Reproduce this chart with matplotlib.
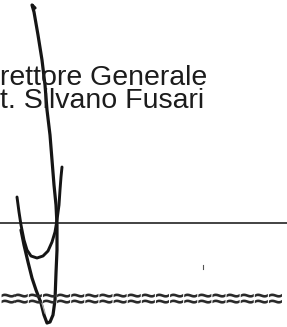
import matplotlib
matplotlib.use("Agg")
import matplotlib.pyplot as plt

# testo (ritagliato come nella scansione)
riga1 = "rettore Generale"
riga2 = "t. Silvano Fusari"
onde = "\u2248" * 20

# firma: tratto principale (giu', V in basso, risale a sinistra)
firma1_x = [35, 32, 34, 38, 42, 45, 47, 50, 52, 54, 56, 57, 57, 56, 55, 53, 50, 47, 44, 41, 36, 32, 28, 24, 21]
firma1_y = [8, 5, 12, 35, 60, 85, 110, 135, 160, 185, 205, 225, 250, 273, 300, 315, 322, 323, 315, 303, 290, 278, 262, 245, 230]

# firma: secondo tratto (ansa a U)
firma2_x = [17, 19, 21, 24, 27, 31, 37, 43, 48, 52, 55, 57, 59, 60, 61, 62]
firma2_y = [197, 212, 225, 240, 250, 256, 258, 256, 251, 242, 232, 220, 205, 190, 177, 167]

# linea orizzontale
linea_x = [0, 287]
linea_y = [223, 223]

fig = plt.figure(figsize=(2.87, 3.27), dpi=100)
ax = fig.add_axes([0, 0, 1, 1])
ax.set_xlim(0, 287)
ax.set_ylim(327, 0)
ax.axis('off')

ax.text(0, 85, riga1, fontsize=20.5, family='Liberation Sans', color='#1c1c1c', va='baseline', ha='left')
ax.text(0, 108.5, riga2, fontsize=20.5, family='Liberation Sans', color='#1c1c1c', va='baseline', ha='left')

ax.plot(linea_x, linea_y, color='#222222', lw=1.2)

ax.text(0, 300, onde, fontsize=18.5, family='Liberation Sans', weight='bold', color='#2a2a2a',
        va='center', ha='left')

ax.plot(firma1_x, firma1_y, color='#151515', lw=2.3, solid_capstyle='round', solid_joinstyle='round')
ax.plot(firma2_x, firma2_y, color='#151515', lw=2.1, solid_capstyle='round', solid_joinstyle='round')

# segni minori della scansione
ax.plot([42, 45], [303, 313], color='#aaaaaa', lw=1.0)
ax.plot([203, 203], [265, 269], color='#555555', lw=0.8)

fig.savefig('out.png', dpi=100)
